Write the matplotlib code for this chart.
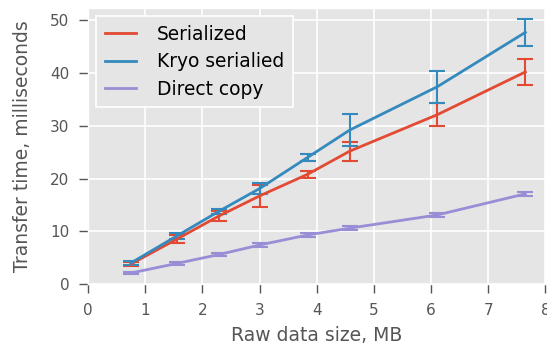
import numpy as np
import matplotlib
matplotlib.use("Agg")
import matplotlib.pyplot as plt
from matplotlib.lines import Line2D

# raw data size, MB
size_mb = [0.75, 1.55, 2.29, 3.0, 3.84, 4.58, 6.11, 7.65]

ser = [3.8, 8.5, 12.9, 16.7, 20.8, 25.2, 32.1, 40.2]
ser_err = [0.4, 0.8, 0.9, 2.1, 0.7, 1.8, 2.2, 2.4]

kryo = [4.0, 9.1, 13.8, 18.1, 24.0, 29.2, 37.4, 47.7]
kryo_err = [0.4, 0.5, 0.5, 1.0, 0.6, 3.0, 3.0, 2.5]

direct = [2.1, 3.9, 5.6, 7.4, 9.3, 10.6, 13.1, 17.1]
direct_err = [0.2, 0.2, 0.3, 0.4, 0.3, 0.4, 0.4, 0.4]

plt.style.use("ggplot")
fig = plt.figure(figsize=(5.47, 3.52), dpi=100)
ax = fig.add_axes([0.161, 0.193, 0.836, 0.784])

handles = []
for y, e, lab, c in [(ser, ser_err, "Serialized", "#E24A33"),
                     (kryo, kryo_err, "Kryo serialied", "#348ABD"),
                     (direct, direct_err, "Direct copy", "#988ED5")]:
    ax.errorbar(size_mb, y, yerr=e, color=c, lw=2, capsize=6, capthick=1.5,
                elinewidth=1.5)
    handles.append(Line2D([], [], color=c, lw=2, label=lab))

ax.set_xlim(0, 8)
ax.set_ylim(0, 52.3)
ax.set_xticks(range(0, 9))
ax.set_yticks(range(0, 51, 10))
ax.grid(True, color="white", lw=1.2)
ax.set_axisbelow(True)
ax.tick_params(direction="out", length=6.5, width=1, pad=7, colors="#555555",
               labelsize=11, top=False, right=False)
ax.set_xlabel("Raw data size, MB", fontsize=13.5, color="#555555", labelpad=6)
ax.set_ylabel("Transfer time, milliseconds", fontsize=13.5, color="#555555",
              labelpad=13)
leg = ax.legend(handles=handles, loc="upper left", fontsize=13.4, fancybox=False,
                facecolor="#E5E5E5", edgecolor="white", framealpha=1,
                handlelength=1.7, handletextpad=1.1, borderpad=0.45,
                labelspacing=0.45, borderaxespad=0.45)
leg.get_frame().set_linewidth(1.2)
for t in leg.get_texts():
    t.set_color("black")

fig.savefig("out.png", dpi=100)
